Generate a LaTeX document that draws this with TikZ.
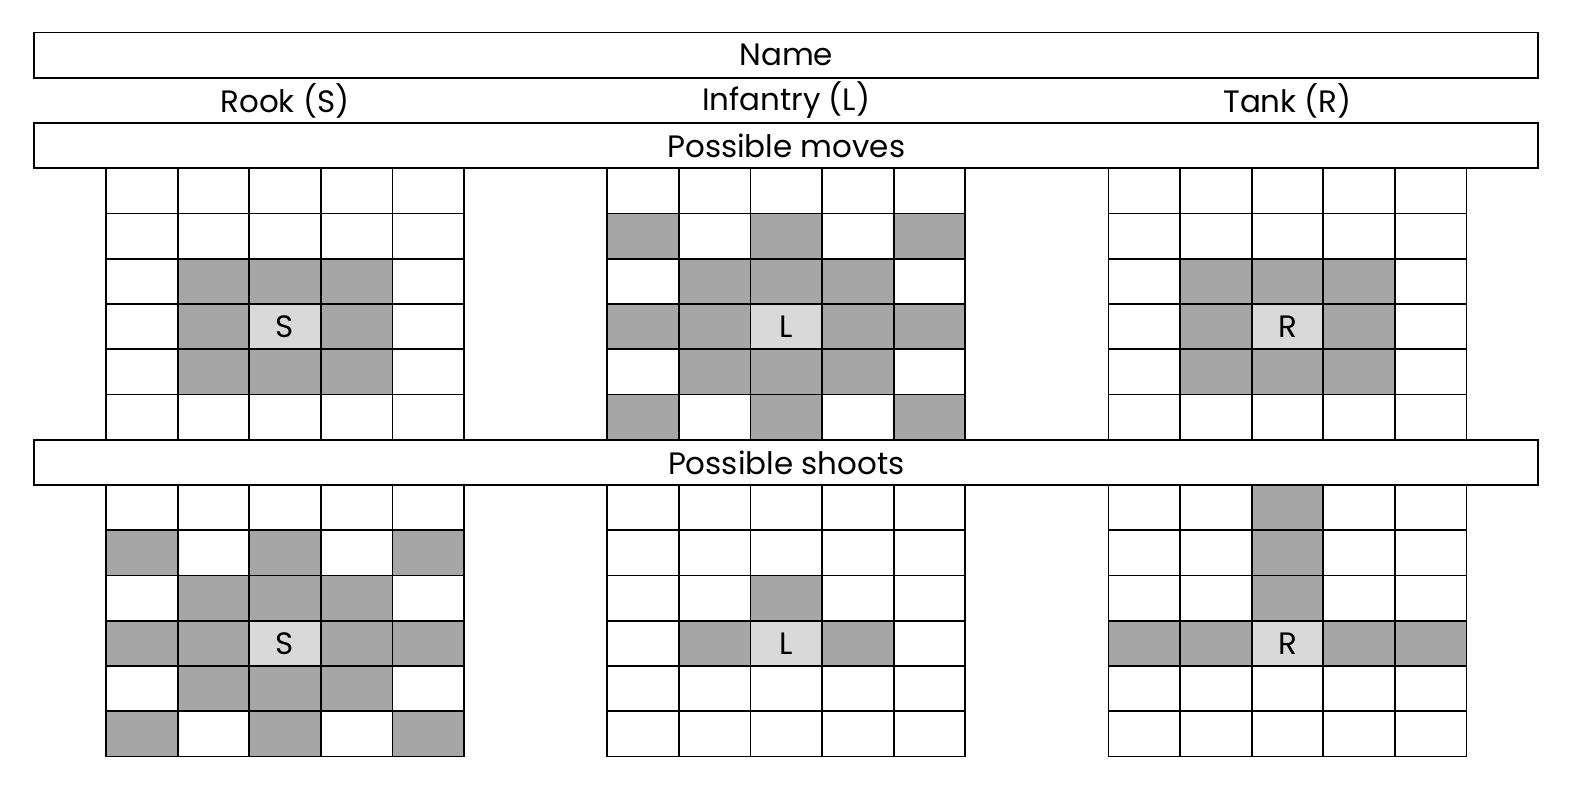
\documentclass[tikz,border=0pt]{standalone}
\usepackage{fontspec}
\setmainfont{Poppins}
\usepackage{tikz}
\usepackage{xcolor}
\usetikzlibrary{calc}

\definecolor{movegray}{HTML}{A6A6A6}
\definecolor{piecegray}{HTML}{D9D9D9}

\begin{document}
\begin{tikzpicture}[x=1.79cm,y=-1.131cm,line width=1.3pt]
        \tikzstyle{every node}=[font=\fontsize{22}{26}\selectfont]
        \tikzstyle{bar}=[draw,minimum width=37.59cm,minimum height=1.131cm,inner sep=0pt]
        \tikzstyle{piece}=[fill=piecegray,minimum width=1.79cm,minimum height=1.131cm,inner sep=0pt]
        \useasboundingbox (-1.48,-0.72) rectangle (20.64,16.80);

            \node[bar] (name) at (9.5,0.5) {Name};
            \node (rook) at (2.5,1.5) {Rook (S)};
            \node (inf) at ($(rook)+(7,0)$) {Infantry (L)};
            \node (tank) at ($(inf)+(7,0)$) {Tank (R)};
            \node[bar] (moves) at (9.5,2.5) {Possible moves};
            \node[bar] (shoots) at (9.5,9.5) {Possible shoots};

            % possible moves
            \foreach \c/\r in {1/2,2/2,3/2,1/3,3/3,1/4,2/4,3/4}{
                \fill[movegray] (\c,3+\r) rectangle ++(1,1);
                \fill[movegray] (14+\c,3+\r) rectangle ++(1,1);
            }
            \foreach \c/\r in {0/1,2/1,4/1,1/2,2/2,3/2,0/3,1/3,3/3,4/3,1/4,2/4,3/4,0/5,2/5,4/5}{
                \fill[movegray] (7+\c,3+\r) rectangle ++(1,1);
                \fill[movegray] (\c,10+\r) rectangle ++(1,1);
            }

            % possible shoots
            \foreach \c/\r in {2/2,1/3,3/3}
                \fill[movegray] (7+\c,10+\r) rectangle ++(1,1);
            \foreach \c/\r in {2/0,2/1,2/2,0/3,1/3,3/3,4/3}
                \fill[movegray] (14+\c,10+\r) rectangle ++(1,1);

            \node[piece] (S1) at (2.5,6.5) {S};
            \node[piece] (L1) at ($(S1)+(7,0)$) {L};
            \node[piece] (R1) at ($(L1)+(7,0)$) {R};
            \node[piece] (S2) at ($(S1)+(0,7)$) {S};
            \node[piece] (L2) at ($(S2)+(7,0)$) {L};
            \node[piece] (R2) at ($(L2)+(7,0)$) {R};

            \foreach \ox in {0,7,14}
                \foreach \oy in {3,10}
                    \foreach \c in {0,...,4}
                        \foreach \r in {0,...,5}
                            \draw (\ox+\c,\oy+\r) rectangle ++(1,1);

        \end{tikzpicture}
\end{document}
